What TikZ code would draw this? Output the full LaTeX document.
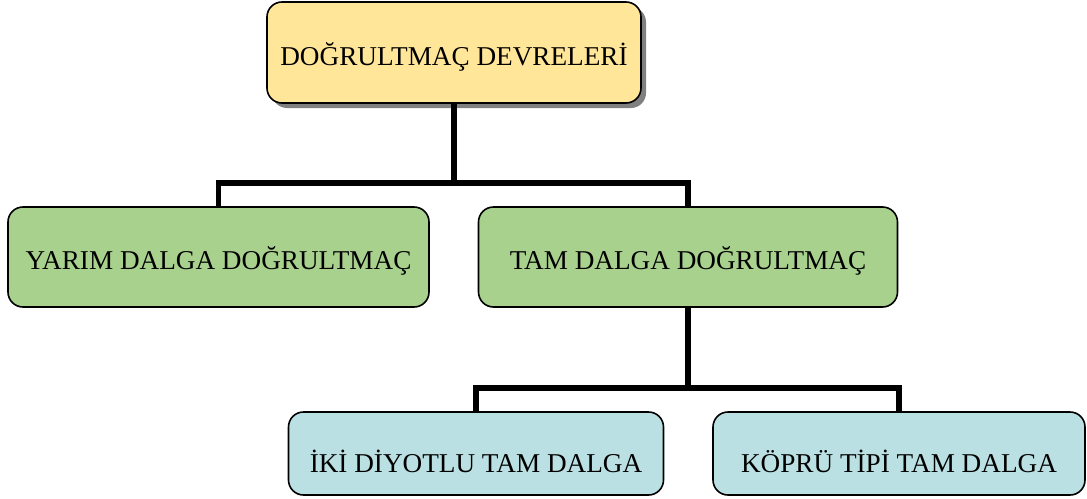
\documentclass[tikz,border=0pt]{standalone}
\usepackage{fontspec}
\setmainfont{Liberation Serif}
\usetikzlibrary{shadows}
\definecolor{topfill}{HTML}{FFE699}
\definecolor{midfill}{HTML}{A9D18E}
\definecolor{lowfill}{HTML}{BBE0E3}
\tikzset{
  box/.style={draw=black, line width=1.6pt, rounded corners=15pt, inner sep=0pt,
    font=\fontsize{27.2}{30}\selectfont, text height=25pt, text depth=0pt},
  lowbox/.style={box, text height=37pt},
  conn/.style={draw=black, line width=5.5pt, line join=miter}
}
\begin{document}
\begin{tikzpicture}[x=1pt,y=-1pt]
\useasboundingbox (0,0) rectangle (1087,498);
\node[box, fill=topfill, minimum width=374pt, minimum height=101pt,
  drop shadow={shadow xshift=5pt, shadow yshift=-5pt, fill=black!50, opacity=1}]
  (top) at (454,52.5) {DOĞRULTMAÇ DEVRELERİ};
\node[box, fill=midfill, minimum width=421pt, minimum height=100pt]
  (yarim) at (218.5,257) {YARIM DALGA DOĞRULTMAÇ};
\node[box, fill=midfill, minimum width=419pt, minimum height=100pt]
  (tam) at (688,257) {TAM DALGA DOĞRULTMAÇ};
\node[lowbox, fill=lowfill, minimum width=375pt, minimum height=83pt]
  (iki) at (476,453.5) {İKİ DİYOTLU TAM DALGA};
\node[lowbox, fill=lowfill, minimum width=372pt, minimum height=83pt]
  (kopru) at (899,453.5) {KÖPRÜ TİPİ TAM DALGA};
\coordinate (j1) at (454,183);
\coordinate (j2) at (688,388);
\draw[conn] (top.south) -- (j1);
\draw[conn] (yarim.north) |- (j1) -| (tam.north);
\draw[conn] (tam.south) -- (j2);
\draw[conn] (iki.north) |- (j2) -| (kopru.north);
\end{tikzpicture}
\end{document}
